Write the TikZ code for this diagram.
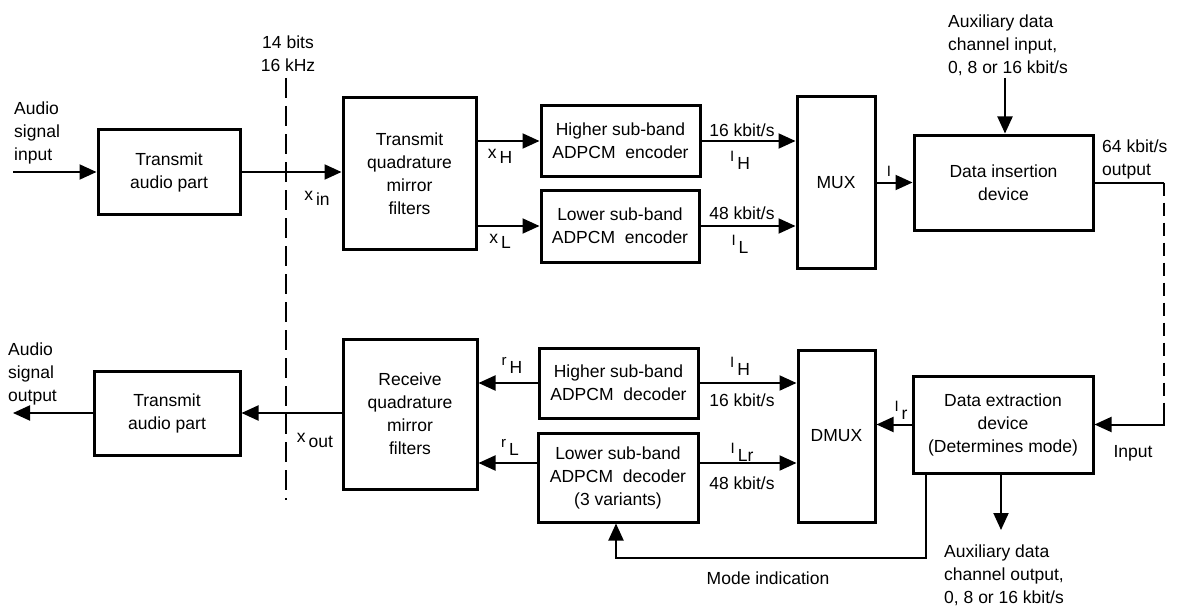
\documentclass[tikz,border=0pt]{standalone}
\usepackage{fontspec}
\setmainfont{Liberation Sans}
\usetikzlibrary{arrows.meta}
\newcommand{\sigl}[2]{#1\kern3pt\raisebox{-5pt}{#2}}
\newcommand{\smI}{\raisebox{3pt}{\fontsize{15}{15}\selectfont I}}
\newcommand{\smr}{\raisebox{3pt}{\fontsize{15}{15}\selectfont r}}
\begin{document}
\begin{tikzpicture}[x=1pt,y=-1pt,
 every node/.style={font=\fontsize{17.5}{23}\selectfont},
 box/.style={draw, line width=3pt, align=center, inner sep=0pt},
 conn/.style={line width=2pt},
 arr/.style={conn, -{Triangle[length=17pt,width=15pt]}},
 dashln/.style={conn, dash pattern=on 20pt off 8pt},
 lbl/.style={inner sep=0pt, align=center},
 lbll/.style={inner sep=0pt, align=left}]
\useasboundingbox (0,0) rectangle (1177,607);

% boxes, top row
\node[box, minimum width=142, minimum height=84] (ta1) at (169,172) {Transmit\\audio part};
\node[box, minimum width=133, minimum height=151] (tqmf) at (409.5,173.5) {Transmit\\quadrature\\mirror\\filters};
\node[box, minimum width=159, minimum height=70] (henc) at (620.5,141) {Higher sub-band\\ADPCM\ \ encoder};
\node[box, minimum width=158, minimum height=72] (lenc) at (620,226) {Lower sub-band\\ADPCM\ \ encoder};
\node[box, minimum width=78, minimum height=171] (mux) at (836,182.5) {MUX};
\node[box, minimum width=179, minimum height=95] (dins) at (1003.5,182.5) {Data insertion\\device};

% boxes, bottom row
\node[box, minimum width=146, minimum height=84] (ta2) at (167,413) {Transmit\\audio part};
\node[box, minimum width=134, minimum height=150] (rqmf) at (410,414) {Receive\\quadrature\\mirror\\filters};
\node[box, minimum width=159, minimum height=70] (hdec) at (618.5,383) {Higher sub-band\\ADPCM\ \ decoder};
\node[box, minimum width=160, minimum height=89] (ldec) at (618,477.5) {Lower sub-band\\ADPCM\ \ decoder\\(3 variants)};
\node[box, minimum width=77, minimum height=172] (dmux) at (836.5,436) {DMUX};
\node[box, minimum width=180, minimum height=97] (dext) at (1003,424.5) {Data extraction\\device\\(Determines mode)};

% coordinates
\coordinate (in) at (13,172);
\coordinate (out) at (13,413);
\coordinate (d1) at (286,78);
\coordinate (d2) at (286,500);
\coordinate (auxin) at (1005,78);
\coordinate (auxout) at (1001,530);
\coordinate (c1) at (1164,182.5);
\coordinate (c2) at (1164,415);
\coordinate (c3) at (1164,424.5);
\coordinate (lrow) at (0,463);
\coordinate (m1) at (926,558);
\coordinate (m2) at (616,558);

% connectors, top
\draw[arr] (in) -- (ta1.west);
\draw[arr] (ta1.east) -- (tqmf.west |- ta1.east);
\draw[arr] (tqmf.east |- henc.west) -- (henc.west);
\draw[arr] (tqmf.east |- lenc.west) -- (lenc.west);
\draw[arr] (henc.east) -- (mux.west |- henc.east);
\draw[arr] (lenc.east) -- (mux.west |- lenc.east);
\draw[arr] (mux.east |- dins.west) -- (dins.west);
\draw[arr] (auxin) -- (auxin |- dins.north);
\draw[conn] (dins.east) -- (c1);
\draw[conn, dash pattern=on 13pt off 7pt] (c1) -- (c2);
\draw[arr] (c2) -- (c3) -- (dext.east);
\draw[dashln] (d1) -- (d2);

% connectors, bottom
\draw[arr] (dext.west) -- (dmux.east |- dext.west);
\draw[arr] (hdec.east) -- (dmux.west |- hdec.east);
\draw[arr] (ldec.east |- lrow) -- (dmux.west |- lrow);
\draw[arr] (hdec.west) -- (rqmf.east |- hdec.west);
\draw[arr] (ldec.west |- lrow) -- (rqmf.east |- lrow);
\draw[arr] (rqmf.west |- ta2.east) -- (ta2.east);
\draw[arr] (ta2.west) -- (out);
\draw[arr] (dext.south -| auxout) -- (auxout);
\draw[arr] (dext.south -| m1) -- (m1) -- (m2) -- (ldec.south -| m2);

% labels
\node[lbll, anchor=west] (lin) at (14,133) {Audio\\signal\\input};
\node[lbll, anchor=west] (lout) at (8,374) {Audio\\signal\\output};
\node[lbl] (lbits) at (288,54) {14 bits\\16 kHz};
\node[lbl] (lxin) at (317,198) {\sigl{x}{in}};
\node[lbl] (lxout) at (315,440) {\sigl{x}{out}};
\node[lbl] (lxh) at (500,156) {\sigl{x}{H}};
\node[lbl] (lxl) at (500,241) {\sigl{x}{L}};
\node[lbl] (l16a) at (742,130) {16 kbit/s};
\node[lbl] (lih) at (740,160) {\sigl{\smI}{H}};
\node[lbl] (l48a) at (742,213) {48 kbit/s};
\node[lbl] (lil) at (740,244) {\sigl{\smI}{L}};
\node[lbl] (li) at (889,173) {\smI};
\node[lbll, anchor=west] (lauxin) at (948,45) {Auxiliary data\\channel input,\\0, 8 or 16 kbit/s};
\node[lbll, anchor=west] (l64) at (1102,159) {64 kbit/s\\output};
\node[lbl] (lrh) at (512,365) {\sigl{\smr}{H}};
\node[lbl] (lrl) at (510,447) {\sigl{\smr}{L}};
\node[lbl] (lih2) at (740,366) {\sigl{\smI}{H}};
\node[lbl] (l16b) at (742,400) {16 kbit/s};
\node[lbl] (lilr) at (742,452) {\sigl{\smI}{Lr}};
\node[lbl] (l48b) at (742,483) {48 kbit/s};
\node[lbl] (lir) at (901,410) {\sigl{\smI}{r}};
\node[lbl] (linput) at (1133,453) {Input};
\node[lbll, anchor=west] (lauxout) at (944,575) {Auxiliary data\\channel output,\\0, 8 or 16 kbit/s};
\node[lbl] (lmode) at (768,578) {Mode indication};
\end{tikzpicture}
\end{document}
